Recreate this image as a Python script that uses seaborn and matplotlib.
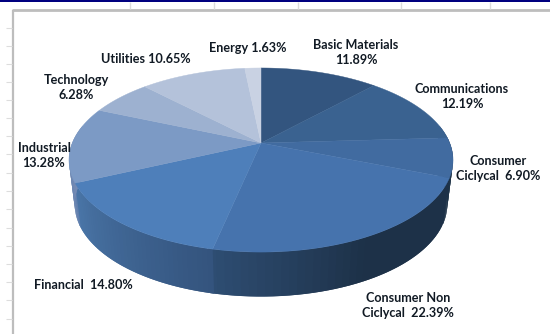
import numpy as np
import pandas as pd
import matplotlib
matplotlib.use("Agg")
import matplotlib.pyplot as plt
from matplotlib.collections import PolyCollection
import seaborn as sns

# Portfolio breakdown by sector, clockwise from twelve o'clock
sectors = ["Basic Materials", "Communications", "Consumer Cyclical", "Consumer Non Cyclical",
           "Financial", "Industrial", "Technology", "Utilities", "Energy"]
weights = [11.89, 12.19, 6.90, 22.39, 14.80, 13.28, 6.28, 10.65, 1.63]
top_colors = ["#33557f", "#3a6290", "#416ba0", "#4673ad", "#4e7fba",
              "#7c9ac5", "#9db1d0", "#b4c2da", "#c9d2e3"]
# Side wall shading of each sector, colour stops from its clockwise start to its end
wall_stops = [["#33557f"], ["#33557f"], ["#1e3348"],
              ["#1d3148", "#1d3148", "#2e4d72"],
              ["#34547e", "#4a76a8"],
              ["#5f7fae", "#8493b8"],
              ["#8493b8"], ["#8493b8"], ["#33557f"]]

label_lines = ["Basic Materials\n11.89%", "Communications\n12.19%", "Consumer\nCiclycal  6.90%",
               "Consumer Non\nCiclycal  22.39%", "Financial  14.80%", "Industrial\n13.28%",
               "Technology\n6.28%", "Utilities 10.65%", "Energy 1.63%"]
label_x = [356, 462, 498, 408, 83, 44, 76, 146, 248]
label_y = [52.5, 96.5, 168.5, 305.5, 285, 155.5, 87.5, 59, 48]

# Spreadsheet furniture behind the chart
row_ticks = [28, 46, 64, 82, 100, 118, 136, 154, 173, 191, 209, 228, 246, 264, 282, 300, 319]
col_ticks = [130, 214, 298, 401, 490]

df = pd.DataFrame({"sector": sectors, "weight": weights})
df["end"] = df["weight"].cumsum() / df["weight"].sum() * 2 * np.pi
df["start"] = df["end"].shift(fill_value=0.0)

# Perspective of the tilted disc, in pixels
APEX_X, APEX_Y = 261.0, 143.0
SCALE_X, SCALE_Y, TILT = 188.7, 88.9, 0.185
DEPTH, FLOOR_SHRINK = 44.5, 0.97


def rim(theta, floor=False):
    """Project clockwise angles from twelve o'clock onto the disc rim."""
    x, y = np.sin(theta), np.cos(theta)
    w = 1 + TILT * y
    px, py = SCALE_X * x / w, SCALE_Y * y / w
    if floor:
        return APEX_X + px * FLOOR_SHRINK, APEX_Y - py + DEPTH
    return APEX_X + px, APEX_Y - py


sns.set_theme(style="white")
plt.rcParams["font.family"] = ["Lato", "DejaVu Sans"]

fig = plt.figure(figsize=(5.5, 3.34), dpi=100, facecolor="white")
ax = fig.add_axes([0, 0, 1, 1])
ax.set_xlim(0, 550)
ax.set_ylim(334, 0)
ax.axis("off")

ax.axhspan(0, 2.2, color="#00007f", lw=0, zorder=3)
ax.hlines(10, 12, 550, color="#bdbdbd", lw=2, zorder=2)
ax.vlines(12.5, 10, 334, color="#bdbdbd", lw=1.6, zorder=2)
ax.hlines(row_ticks, 6, 12, color="#dddddd", lw=0.8)
ax.vlines(col_ticks, 2, 9, color="#dcdcdc", lw=1)

# Side wall: overlapping quads along the front of the rim, shaded across each sector
for row, stops in zip(df.itertuples(), wall_stops):
    lo, hi = max(row.start, np.pi / 2 - 0.2), min(row.end, 3 * np.pi / 2 + 0.2)
    if hi <= lo:
        continue
    edges = np.linspace(lo, hi, 41)
    # Sectors reach a little past their end so the next one covers the joint
    reach = np.linspace(lo, min(hi + 0.02, 3 * np.pi / 2 + 0.2), 41)
    tx, ty = rim(reach)
    fx, fy = rim(reach, floor=True)
    ramp = sns.blend_palette(stops * 2 if len(stops) == 1 else stops, len(edges) - 1)
    quads = [[(tx[i], ty[i]), (tx[min(i + 2, 40)], ty[min(i + 2, 40)]),
              (fx[min(i + 2, 40)], fy[min(i + 2, 40)]), (fx[i], fy[i])]
             for i in range(len(edges) - 1)]
    ax.add_collection(PolyCollection(quads, facecolors=ramp, edgecolors="none", zorder=4))

# Top face
for row, color in zip(df.itertuples(), top_colors):
    theta = np.linspace(row.start, row.end, 80)
    xs, ys = rim(theta)
    ax.fill(np.r_[APEX_X, xs], np.r_[APEX_Y, ys], color=color, lw=0.3, zorder=5)

for text, x, y in zip(label_lines, label_x, label_y):
    ax.text(x, y, text, ha="center", va="center", fontsize=9.1, fontweight="bold",
            color="#111a24", linespacing=1.36, zorder=6)

fig.savefig("out.png", dpi=100, facecolor="white")
